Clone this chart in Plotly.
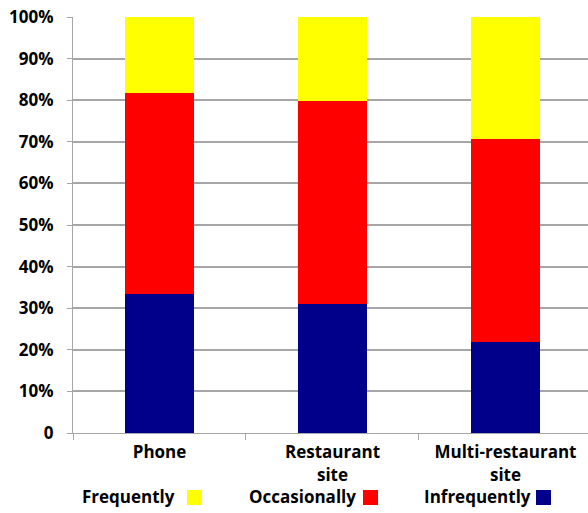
import plotly.graph_objects as go

categories = ["Phone", "Restaurant<br>site", "Multi-restaurant<br>site"]
infrequently = [33.4, 31.0, 21.9]
occasionally = [48.4, 48.8, 48.8]
frequently = [18.2, 20.2, 29.3]
y_ticks = [0, 10, 20, 30, 40, 50, 60, 70, 80, 90, 100]
y_tick_labels = ["0"] + [f"{v}%" for v in y_ticks[1:]]

series = [
    ("Infrequently", infrequently, "#00008B"),
    ("Occasionally", occasionally, "#FF0000"),
    ("Frequently", frequently, "#FFFF00"),
]

FONT = "Open Sans"
fig = go.Figure()
for name, vals, col in series:
    fig.add_trace(go.Bar(x=categories, y=vals, name=name, marker_color=col,
                         marker_line_width=0, width=0.4, showlegend=False))

L, T, PW, PH = 73, 17, 515, 416
fig.update_layout(
    barmode="stack",
    width=588, height=513,
    margin=dict(l=L, r=0, t=T, b=513 - T - PH),
    plot_bgcolor="white", paper_bgcolor="white",
    font=dict(family=FONT, size=17, color="black", weight="bold"),
)
fig.update_yaxes(range=[0, 100], tickvals=y_ticks, ticktext=y_tick_labels,
                 showgrid=True, gridcolor="#A6A6A6", gridwidth=1.5,
                 showline=True, linecolor="#A6A6A6", linewidth=1,
                 ticks="outside", ticklen=5, tickcolor="#A6A6A6",
                 ticklabelstandoff=10, zeroline=False)
fig.update_xaxes(range=[-0.5, 2.477], showline=True, linecolor="#A6A6A6",
                 ticks="outside", tickson="boundaries", ticklen=6,
                 tickcolor="#A6A6A6", showgrid=False, ticklabelstandoff=4)

def px_x(px):
    return (px - L) / PW

def px_y(py):
    return (T + PH - py) / PH

legend_items = [("Frequently", "#FFFF00", 80, 187), ("Occasionally", "#FF0000", 247, 363),
                ("Infrequently", "#00008B", 422, 536)]
for name, col, x0, sx in legend_items:
    fig.add_annotation(xref="paper", yref="paper", x=px_x(x0), y=px_y(497),
                       xanchor="left", yanchor="middle", showarrow=False,
                       text=name,
                       font=dict(family=FONT, size=17, color="black", weight="bold"))
    fig.add_shape(type="rect", xref="paper", yref="paper",
                  x0=px_x(sx), x1=px_x(sx + 15), y0=px_y(505), y1=px_y(490),
                  fillcolor=col, line_width=0)

fig.write_html("out.html", config={"displayModeBar": False},
               post_script="document.body.style.margin='0';")
